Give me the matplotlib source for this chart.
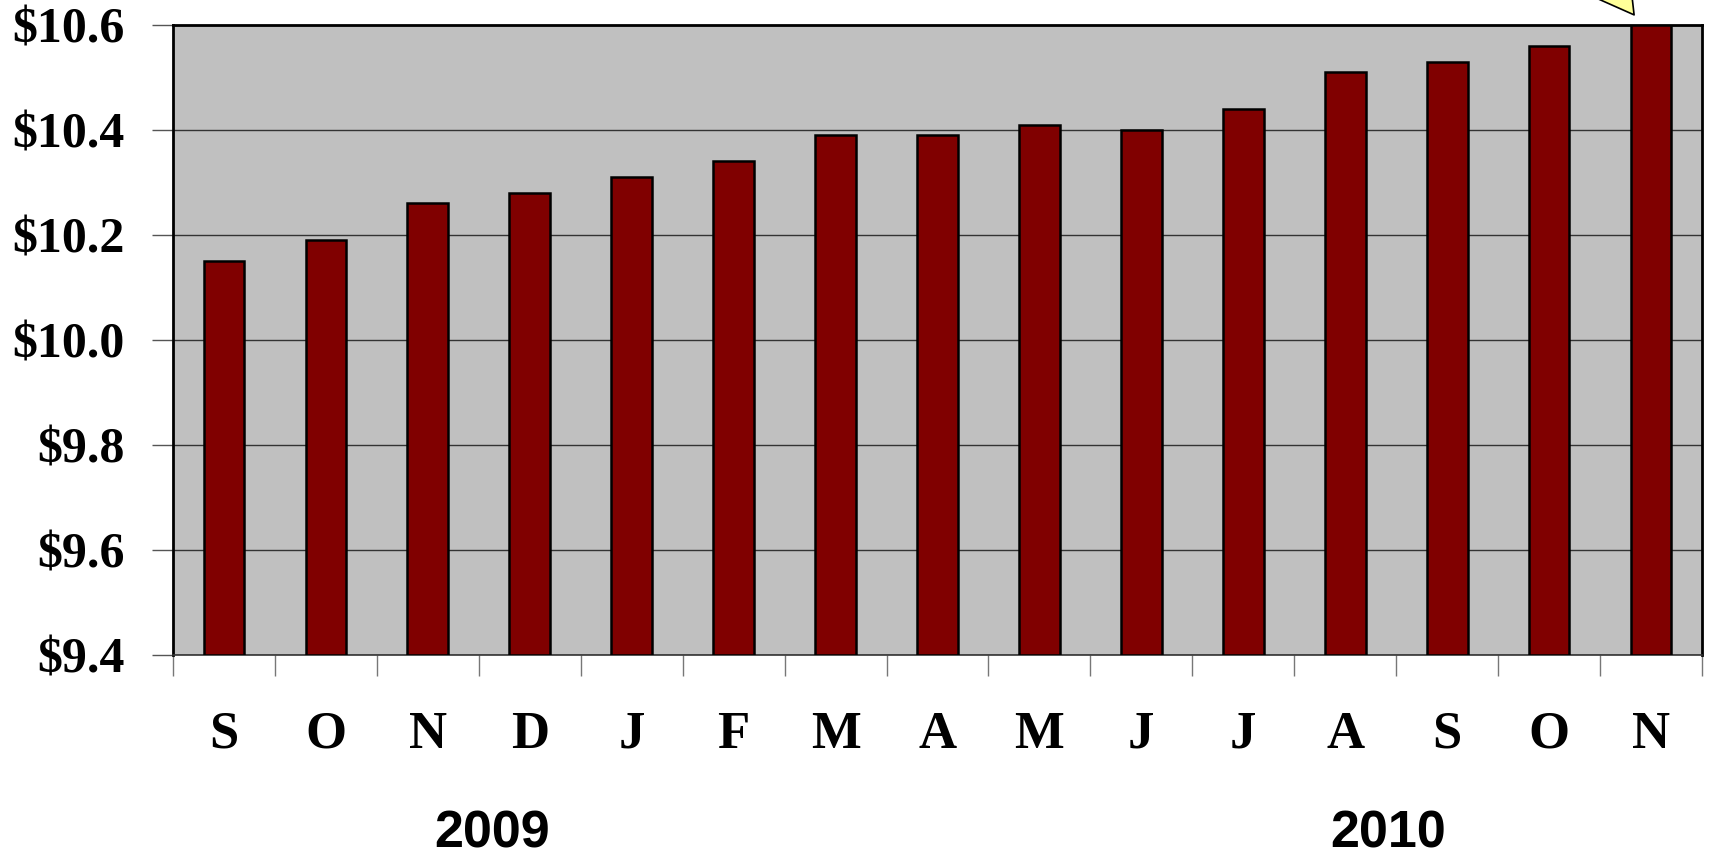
import matplotlib
matplotlib.use('Agg')
import matplotlib.pyplot as plt
import matplotlib.transforms as mtransforms
import numpy as np

# Monthly values, Sep 2009 - Nov 2010
months = ["S", "O", "N", "D", "J", "F", "M", "A", "M", "J", "J", "A", "S", "O", "N"]
values = [10.15, 10.19, 10.26, 10.28, 10.31, 10.34, 10.39, 10.39, 10.41, 10.40,
          10.44, 10.51, 10.53, 10.56, 10.60]
years = ["2009", "2010"]
year_pos = [2.63, 11.42]
yticks = [9.4, 9.6, 9.8, 10.0, 10.2, 10.4, 10.6]

fig = plt.figure(figsize=(17.09, 8.57), dpi=100)
ax = fig.add_axes([173 / 1709, 1 - 655 / 857, (1702 - 173) / 1709, (655 - 25) / 857])

x = np.arange(len(months))
ax.set_facecolor('#c0c0c0')
ax.bar(x, np.array(values) - 9.4, bottom=9.4, width=0.4, color='#800000',
       edgecolor='black', linewidth=1.8, zorder=3)

ax.set_ylim(9.4, 10.6)
ax.set_xlim(-0.5, len(months) - 0.5)
ax.set_yticks(yticks)
ax.set_yticklabels(["$%.1f" % v for v in yticks], fontfamily='Liberation Serif',
                   fontweight='bold', fontsize=36)
ax.yaxis.grid(True, color='#333333', linewidth=1.0, zorder=1)
ax.tick_params(axis='y', length=15, width=1.0, color='#555555', pad=20)

# ticks between the categories, labels centred under the bars
ax.set_xticks(np.arange(len(months) + 1) - 0.5)
ax.set_xticklabels([])
ax.set_xticks(x, minor=True)
ax.set_xticklabels(months, minor=True, fontfamily='Liberation Serif',
                   fontweight='bold', fontsize=38)
ax.tick_params(axis='x', which='major', length=15, width=1.0, color='#777777')
ax.tick_params(axis='x', which='minor', length=0, pad=40)

for s in ['left', 'top', 'right']:
    ax.spines[s].set_linewidth(2)
    ax.spines[s].set_color('black')
ax.spines['bottom'].set_linewidth(1.2)
ax.spines['bottom'].set_color('#333333')

# year labels under the month row
trans = mtransforms.blended_transform_factory(ax.transData, fig.transFigure)
for yr, p in zip(years, year_pos):
    ax.text(p, 1 - 834 / 857, yr, transform=trans, ha='center', va='center',
            fontfamily='Liberation Sans', fontweight='bold', fontsize=37.5)

# callout arrow pointing at the latest value
ax.annotate("", xy=(x[-1] - 0.15, values[-1] + 0.015), xytext=(-22, 30),
            textcoords='offset points', annotation_clip=False,
            arrowprops=dict(arrowstyle='wedge,tail_width=1.9', mutation_scale=20,
                            facecolor='#ffff99', edgecolor='black', linewidth=1.2))

fig.savefig('out.png', dpi=100)
